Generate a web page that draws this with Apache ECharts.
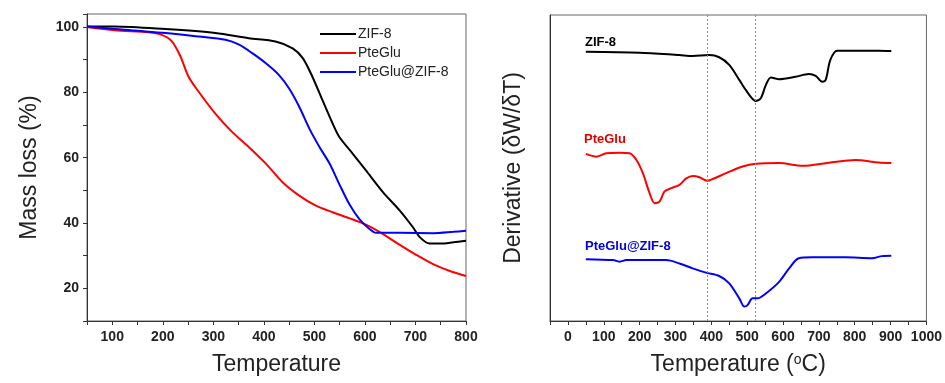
<!DOCTYPE html>
<html>
<head>
<meta charset="utf-8">
<script src="https://cdn.jsdelivr.net/npm/echarts@6/dist/echarts.min.js"></script>
<style>
  html, body { margin: 0; padding: 0; background: #fff; }
  #main { width: 945px; height: 383px; }
</style>
</head>
<body>
<div id="main"></div>
<script>
// TGA curves: [temperature, mass %]
const tgaZif8 = [[50,100.2],[105,100.2],[205,99.4],[304,98.2],[370,96.6],[423,95.6],[457,93.5],[477,90.5],[496,84.8],[516,77.6],[536,70.5],[549,66.4],[576,61.2],[602,56.1],[636,49.4],[669,43.8],[695,38.7],[709,35.6],[728,33.7],[748,33.7],[775,34.1],[800,34.6]];
const tgaPteGlu = [[50,100],[105,99.0],[172,98.4],[198,97.6],[218,95.6],[235,91.0],[251,84.8],[271,80.2],[304,73.5],[337,67.9],[370,63.3],[404,58.2],[437,52.5],[470,48.4],[503,45.3],[536,43.3],[569,41.5],[602,39.5],[636,36.6],[669,33.3],[702,30.2],[735,27.4],[768,25.3],[800,23.8]];
const tgaLoaded = [[50,100.2],[138,99.0],[205,98.2],[271,97.1],[324,96.1],[351,94.6],[377,92.0],[404,88.9],[430,85.3],[450,81.2],[470,75.6],[490,68.9],[510,63.3],[530,58.2],[549,52.0],[569,45.8],[589,41.2],[609,38.2],[622,37.0],[669,37.0],[735,36.9],[775,37.3],[800,37.6]];

// DTG curves (arbitrary offset units): [temperature, value]
const dtgZif8 = [[50,88.0],[200,87.7],[311,86.9],[348,86.6],[394,86.9],[422,86.2],[450,83.7],[478,78.8],[496,75.5],[524,71.9],[538,72.8],[552,77.1],[566,79.6],[589,79.0],[635,79.8],[672,80.7],[691,80.1],[709,78.2],[719,78.8],[732,85.3],[751,88.3],[774,88.3],[867,88.3],[902,88.2]];
const dtgPteGlu = [[50,54.6],[80,53.7],[107,54.8],[144,55.0],[172,54.8],[191,52.6],[209,48.3],[228,41.7],[242,38.5],[256,39.1],[269,42.3],[288,43.4],[311,44.5],[330,46.6],[348,47.4],[367,47.0],[388,45.8],[404,46.4],[441,48.3],[487,50.5],[524,51.4],[589,51.6],[654,50.7],[728,51.7],[802,52.6],[867,51.8],[902,51.6]];
const dtgLoaded = [[50,20.2],[126,19.9],[144,19.4],[163,19.9],[274,19.9],[311,18.8],[348,17.2],[385,15.8],[422,14.7],[450,12.3],[478,7.4],[492,4.7],[501,5.2],[515,7.4],[529,7.4],[552,9.0],[589,12.8],[617,17.2],[644,20.5],[681,20.8],[774,20.8],[848,20.5],[876,21.2],[902,21.3]];

const guideTemps = [388, 523];
const seriesNames = ['ZIF-8', 'PteGlu', 'PteGlu@ZIF-8'];
const colors = ['#000000', '#ff0000', '#0000ff'];

const chart = echarts.init(document.getElementById('main'));

const tickLabel = { fontFamily: 'Liberation Sans', fontWeight: 'bold', fontSize: 14, color: '#222' };
const nameStyle = { fontFamily: 'Liberation Sans', fontSize: 23, color: '#222' };

function line(name, data, xi, yi, color, extra) {
  return Object.assign({
    name: name, type: 'line', data: data, xAxisIndex: xi, yAxisIndex: yi,
    showSymbol: false, symbol: 'none', smooth: 0.3,
    lineStyle: { color: color, width: 2 }, itemStyle: { color: color },
    animation: false
  }, extra || {});
}

chart.setOption({
  animation: false,
  grid: [
    { left: 87, top: 14, width: 379, height: 307, show: true, borderColor: '#666', borderWidth: 1 },
    { left: 550, top: 15, width: 380, height: 306, show: true, borderColor: '#666', borderWidth: 1 }
  ],
  legend: {
    data: seriesNames, orient: 'vertical', left: 315, top: 22, itemGap: 5,
    itemWidth: 36, itemHeight: 14, icon: 'path://M0,6 L36,6 L36,8 L0,8 Z',
    textStyle: { fontFamily: 'Liberation Sans', fontSize: 14, color: '#222', padding: [0, 0, 0, -3] }
  },
  xAxis: [
    {
      gridIndex: 0, type: 'value', min: 50, max: 800, interval: 50,
      name: 'Temperature', nameLocation: 'middle', nameGap: 32, nameTextStyle: nameStyle,
      axisLine: { onZero: false, lineStyle: { color: '#333' } },
      axisTick: { length: 4, lineStyle: { color: '#333' } },
      axisLabel: Object.assign({ margin: 9, formatter: v => v % 100 === 0 ? v : '' }, tickLabel),
      splitLine: { show: false }
    },
    {
      gridIndex: 1, type: 'value', min: -50, max: 1000, interval: 50,
      name: 'Temperature ({sup|o}C)', nameLocation: 'middle', nameGap: 32,
      nameTextStyle: Object.assign({ rich: { sup: { fontFamily: 'Liberation Sans', fontSize: 14, color: '#222', verticalAlign: 'top', padding: [0, 0, 8, 0] } } }, nameStyle),
      axisLine: { onZero: false, lineStyle: { color: '#333' } },
      axisTick: { length: 4, lineStyle: { color: '#333' } },
      axisLabel: Object.assign({ margin: 9, formatter: v => v % 100 === 0 ? v : '' }, tickLabel),
      splitLine: { show: false }
    }
  ],
  yAxis: [
    {
      gridIndex: 0, type: 'value', min: 10, max: 104, interval: 10,
      name: 'Mass loss (%)', nameLocation: 'middle', nameGap: 46, nameTextStyle: nameStyle,
      axisLine: { show: true, onZero: false, lineStyle: { color: '#333' } },
      axisTick: { show: true, length: 4, lineStyle: { color: '#333' } },
      axisLabel: Object.assign({ margin: 8, formatter: v => v % 20 === 0 ? v : '' }, tickLabel),
      splitLine: { show: false }
    },
    {
      gridIndex: 1, type: 'value', min: 0, max: 100,
      name: 'Derivative (δW/δT)', nameLocation: 'middle', nameGap: 25, nameTextStyle: nameStyle,
      axisLine: { show: true, onZero: false, lineStyle: { color: '#333' } },
      axisTick: { show: false }, axisLabel: { show: false },
      splitLine: { show: false }
    }
  ],
  series: [
    line(seriesNames[0], tgaZif8, 0, 0, colors[0]),
    line(seriesNames[1], tgaPteGlu, 0, 0, colors[1]),
    line(seriesNames[2], tgaLoaded, 0, 0, colors[2]),
    line('dtg-zif', dtgZif8, 1, 1, colors[0], {
      markLine: {
        silent: true, symbol: 'none', label: { show: false },
        lineStyle: { color: '#888', type: [2, 2], width: 1 },
        data: guideTemps.map(t => ({ xAxis: t }))
      }
    }),
    line('dtg-pte', dtgPteGlu, 1, 1, colors[1]),
    line('dtg-loaded', dtgLoaded, 1, 1, colors[2])
  ],
  graphic: [
    { type: 'text', left: 585, top: 36, style: { text: 'ZIF-8', fill: '#000', font: 'bold 13px "Liberation Sans"' } },
    { type: 'text', left: 584, top: 133, style: { text: 'PteGlu', fill: '#e00000', font: 'bold 13px "Liberation Sans"' } },
    { type: 'text', left: 585, top: 240, style: { text: 'PteGlu@ZIF-8', fill: '#0000e0', font: 'bold 13px "Liberation Sans"' } }
  ]
});
</script>
</body>
</html>
